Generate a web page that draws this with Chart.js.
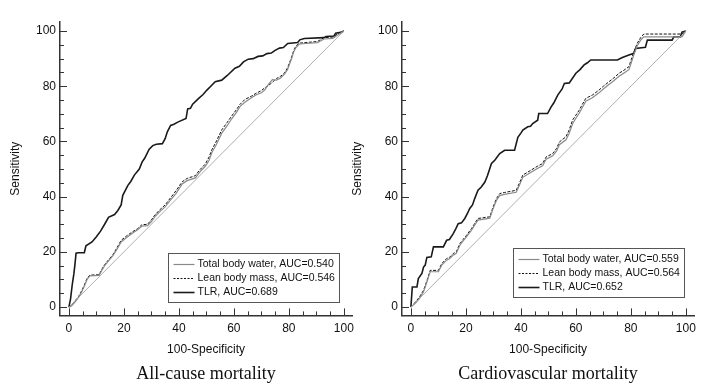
<!DOCTYPE html>
<html>
<head>
<meta charset="utf-8">
<script src="https://cdn.jsdelivr.net/npm/chart.js@4.4.1/dist/chart.umd.min.js"></script>
<style>
  html, body { margin: 0; padding: 0; background: #fff; }
  #wrap { position: relative; width: 705px; height: 388px; overflow: hidden; }
  canvas { position: absolute; top: 0; }
  #c1 { left: 0; }
  #c2 { left: 342px; }
</style>
</head>
<body>
<div id="wrap">
  <canvas id="c1" width="360" height="388"></canvas>
  <canvas id="c2" width="360" height="388"></canvas>
</div>
<script>
// ROC curves: [100-Specificity, Sensitivity]
const refLine = [[0, 0], [100, 100]];

const allTBW = [[0,0],[1,0.5],[2.2,1.8],[3.5,3.5],[4.6,5.4],[5.6,7.5],[6.6,10],[7.6,11.3],[11,11.5],[11.8,13],[13,15],
  [14.5,16.8],[16,18.6],[17.5,21],[19,23.6],[21,25.2],[23.2,26.8],[25,28],[26.5,29.3],[28.6,29.5],[30,31],[31.5,33],
  [32.8,34.3],[35,36.3],[37,38.8],[39,41.2],[41.2,44.6],[43,45.8],[46,46.8],[47.5,48.8],[49.6,51],[51,53.2],[52,56],
  [53.5,58.6],[55.6,63],[57.5,65.6],[59.2,68.2],[61,70.6],[62.2,72.6],[64,74.2],[66.4,75.8],[68,76.8],[70,77.6],
  [71.2,78.6],[72.5,80.6],[74,82.4],[75.5,82.2],[77,83],[78.4,84.4],[79.5,86],[80.8,89.5],[81.8,92.5],[82.6,94],
  [83.8,95.3],[90.4,95.8],[92.8,97.1],[96,97.3],[97.5,98.4],[100,100]];
const allLBM = [[0,0],[1,0.6],[2.2,2.2],[3.5,3.8],[4.6,5.8],[5.6,8],[6.6,10.4],[7.6,11.6],[11,11.7],[11.8,13.4],[13,15.4],
  [14.5,17.2],[16,19],[17.5,21.5],[19,24.2],[21,25.8],[23.2,27.3],[25,28.4],[26.5,29.8],[28.6,30],[30,31.6],[31.5,33.6],
  [32.8,35],[35,37],[37,39.6],[39,42.2],[41.2,45.4],[43,46.6],[46,47.6],[47.5,49.6],[49.6,51.8],[51,54.4],[52,57],
  [53.5,59.8],[55.6,64.2],[57.5,66.8],[59.2,69.2],[61,71.6],[62.2,73.4],[64,75.2],[66.4,76.4],[68,77.4],[70,78.4],
  [71.2,79.4],[72.5,80.2],[74,81.4],[75.5,82.8],[77,83.6],[78.4,84.8],[79.5,86.6],[80.8,90],[81.8,93],[82.6,94.6],
  [83.8,95.6],[90.4,96.2],[92.8,97.6],[96,97.8],[97.5,98.8],[100,100]];
const allTLR = [[0,0],[0.6,3],[1.2,8],[1.8,12],[2.2,15.5],[2.6,19.5],[3.4,19.7],[5.6,19.7],[6.2,22.2],[8.4,23.6],[10,25.5],
  [11.5,27.5],[13,30],[14.4,32.5],[16.6,33.5],[17.8,35],[19,37],[19.6,40.5],[21.4,44],[22.5,45.5],[23.8,47.8],[25.6,50],
  [26.6,52.5],[27.6,54],[29.2,57.2],[30.5,58.5],[31.8,59],[34,59.2],[35,61],[35.8,63.5],[37,65.8],[38.2,66.2],[39.6,67],
  [42.6,68.3],[43.2,71.8],[44.2,72],[45,73.5],[47.2,75.6],[48.8,77],[50.2,78.6],[51.6,80],[53.2,81.6],[55.6,82.2],
  [57.5,83.8],[60.4,86.5],[62,87.2],[63.5,88.8],[65.2,89.8],[67,90],[68.8,90.8],[70.5,91],[72,91.8],[73.6,92],[75,93],
  [76.6,93.8],[78,94],[79.6,95.5],[83.2,95.8],[84,96.8],[85.6,97.3],[92.8,97.6],[93.5,98],[96.4,98.2],[97,99.2],
  [98.8,99.5],[100,100]];

const cvTBW = [[0,0],[1.6,1.4],[3,3],[4.6,5.6],[5.8,9],[7,12.8],[10,12.8],[11.2,15.2],[13,17],[14,17.5],[15.4,18.8],
  [16.5,19.5],[17.8,22.4],[19,24],[20.2,25.4],[22,27.8],[23,29.4],[24.4,31.5],[28.7,32.2],[29.8,35.4],[31.1,38.6],
  [32.3,40.4],[34,40.8],[38.3,41.6],[39.5,44.2],[40.7,47],[43.7,48.8],[46,50.2],[47.9,51.2],[49.2,53.6],[51.6,54.8],
  [53,56.6],[54,58.8],[56.4,60.6],[57.5,62.8],[58.8,66.4],[60,68.4],[61.2,70.2],[62.4,72.4],[63.6,74.6],[66,75.8],
  [68.4,77.6],[70,79],[72,80.6],[73.8,82],[75.7,83.6],[77.5,84.8],[79.3,86],[80.5,89.6],[81.5,92.6],[82.3,94.6],
  [83.5,96.6],[84.7,97.9],[98.6,97.9],[100,100]];
const cvLBM = [[0,0],[1.6,1.8],[3,3.5],[4.6,6.1],[5.8,9.5],[7,13.3],[10,13.3],[11.2,15.7],[13,17.6],[14,18],[15.4,19.4],
  [16.5,20],[17.8,23],[19,24.5],[20.2,26],[22,28.4],[23,30],[24.4,32.1],[28.7,32.7],[29.8,36],[31.1,39.3],[32.3,41.1],
  [34,41.5],[38.3,42.3],[39.5,45],[40.7,47.8],[43.7,49.6],[46,51],[47.9,52],[49.2,54.4],[51.6,55.6],[53,57.5],[54,59.8],
  [56.4,61.7],[57.5,64],[58.8,67.7],[60,69.5],[61.2,71.3],[62.4,73.5],[63.6,75.6],[66,76.8],[68.4,78.6],[70,80],
  [72,81.6],[73.8,83],[75.7,84.7],[77.5,85.8],[79.3,87.1],[80.5,90.7],[81.5,93.5],[82.3,95.5],[83.5,97.5],[84.7,98.9],
  [98.6,98.9],[100,100]];
const cvTLR = [[0,0],[0.5,7.3],[2.2,7.3],[2.7,10.3],[4,12.2],[4.6,14.5],[5.2,15.2],[5.8,18],[7.4,18.2],[8.2,21.8],
  [11.8,21.8],[13,24.2],[14,24.5],[15.4,26.6],[16.4,28.5],[17.2,30.2],[18.4,30.5],[19.6,32.1],[20.6,34],[21.4,35.7],
  [22.4,37],[23.2,39.3],[24.4,42.3],[25.6,43.5],[26.9,45.3],[27.8,47.5],[28.7,50.2],[29.3,52],[30.5,53.2],[32.3,55.6],
  [34.1,56.8],[37.7,56.8],[38.9,61.5],[40,63],[40.7,64.1],[42.5,65.3],[43.5,65.5],[44.3,66.5],[46.1,67.7],[46.5,70.1],
  [49.7,70.1],[51,72.5],[52,74],[53.4,76.8],[55,79],[55.8,81],[57.6,81.2],[60,84.7],[61.5,86],[63,87.7],[64.2,88.5],
  [65.4,89.5],[75.1,89.5],[76.9,90.4],[79.3,91.3],[81.1,91.9],[81.7,93.7],[85.3,94.1],[86,96.7],[95,96.7],[95.6,97.9],
  [98,97.9],[98.6,99.6],[100,100]];

const majorTicks = [0, 20, 40, 60, 80, 100];
const subtitles = ['All-cause mortality', 'Cardiovascular mortality'];
const legendLabels = [
  ['Total body water, AUC=0.540', 'Lean body mass, AUC=0.546', 'TLR, AUC=0.689'],
  ['Total body water, AUC=0.559', 'Lean body mass, AUC=0.564', 'TLR, AUC=0.652']
];

const pts = arr => arr.map(p => ({ x: p[0], y: p[1] }));

// inward tick marks + boxed legend in the lower right corner
const decor = {
  id: 'decor',
  afterDatasetsDraw(chart, args, opts) {
    const { ctx, chartArea: a, scales: { x, y } } = chart;
    ctx.save();
    ctx.strokeStyle = '#333';
    ctx.lineWidth = 1;
    for (let v = 0; v <= 100; v += 5) {
      const len = v % 20 === 0 ? 7 : 4;
      const px = Math.round(x.getPixelForValue(v)) + 0.5;
      ctx.beginPath(); ctx.moveTo(px, a.bottom); ctx.lineTo(px, a.bottom - len); ctx.stroke();
      const py = Math.round(y.getPixelForValue(v)) + 0.5;
      ctx.beginPath(); ctx.moveTo(a.left, py); ctx.lineTo(a.left + len, py); ctx.stroke();
    }
    const items = chart.data.datasets.filter(d => d.label);
    const bx = Math.round(a.right - opts.right - opts.width) + 0.5;
    const by = Math.round(a.bottom - opts.bottom - opts.height) + 0.5;
    ctx.fillStyle = '#fff';
    ctx.fillRect(bx, by, opts.width, opts.height);
    ctx.strokeStyle = '#555';
    ctx.strokeRect(bx, by, opts.width, opts.height);
    ctx.font = '10.5px "Liberation Sans", Arial, sans-serif';
    ctx.textBaseline = 'middle';
    items.forEach((d, i) => {
      const ly = Math.round(by + 10 + i * 14) + 0.5;
      ctx.setLineDash(d.legendDash || []);
      ctx.strokeStyle = d.borderColor;
      ctx.lineWidth = d.borderWidth;
      ctx.beginPath(); ctx.moveTo(bx + 5, ly); ctx.lineTo(bx + 26, ly); ctx.stroke();
      ctx.setLineDash([]);
      ctx.fillStyle = '#111';
      ctx.fillText(d.label, bx + 29, ly);
    });
    ctx.restore();
  }
};

function makeChart(id, tbw, lbm, tlr, n, legendBox) {
  const axisFont = { family: '"Liberation Sans", Arial, sans-serif', size: 12 };
  return new Chart(document.getElementById(id), {
    type: 'scatter',
    data: {
      datasets: [
        { data: pts(refLine), borderColor: '#9a9a9a', borderWidth: 0.8 },
        { label: legendLabels[n][0], data: pts(tbw), borderColor: '#8a8a8a', borderWidth: 1.2 },
        { label: legendLabels[n][1], data: pts(lbm), borderColor: '#111', borderWidth: 1,
          borderDash: [3, 1.5], legendDash: [2, 1.5] },
        { label: legendLabels[n][2], data: pts(tlr), borderColor: '#1a1a1a', borderWidth: 1.6 }
      ].map(d => Object.assign({ showLine: true, pointRadius: 0, tension: 0, fill: false }, d))
    },
    options: {
      responsive: false,
      animation: false,
      events: [],
      layout: { padding: { left: 0, right: 5, top: 22, bottom: 0 } },
      plugins: {
        legend: { display: false },
        tooltip: { enabled: false },
        title: {
          display: true,
          position: 'bottom',
          fullSize: false,
          text: subtitles[n],
          color: '#111',
          font: { family: '"Liberation Serif", "Times New Roman", serif', size: 18, weight: 'normal', lineHeight: 1.2 },
          padding: { top: 3, bottom: 3 }
        },
        decor: legendBox
      },
      scales: {
        x: {
          type: 'linear',
          min: -3.24, max: 103.0,
          afterBuildTicks: s => { s.ticks = majorTicks.map(v => ({ value: v })); },
          afterFit: s => { s.height = 45; },
          grid: { drawOnChartArea: false, drawTicks: false },
          border: { display: true, color: '#333', width: 1.5 },
          ticks: { color: '#111', font: axisFont, padding: 6, maxRotation: 0 },
          title: { display: true, text: '100-Specificity', color: '#111', font: axisFont, padding: { top: 0, bottom: 4 } }
        },
        y: {
          type: 'linear',
          min: -3.01, max: 103.26,
          afterBuildTicks: s => { s.ticks = majorTicks.map(v => ({ value: v })); },
          afterFit: s => { s.width = 60; },
          grid: { drawOnChartArea: false, drawTicks: false },
          border: { display: true, color: '#333', width: 1.5 },
          ticks: { color: '#111', font: axisFont, padding: 4 },
          title: { display: true, text: 'Sensitivity', color: '#111', font: axisFont, padding: { top: 8, bottom: 0 } }
        }
      }
    },
    plugins: [decor]
  });
}

makeChart('c1', allTBW, allLBM, allTLR, 0, { width: 171, height: 49, right: 13, bottom: 13 });
makeChart('c2', cvTBW, cvLBM, cvTLR, 1, { width: 171, height: 49, right: 10, bottom: 18 });
</script>
</body>
</html>
